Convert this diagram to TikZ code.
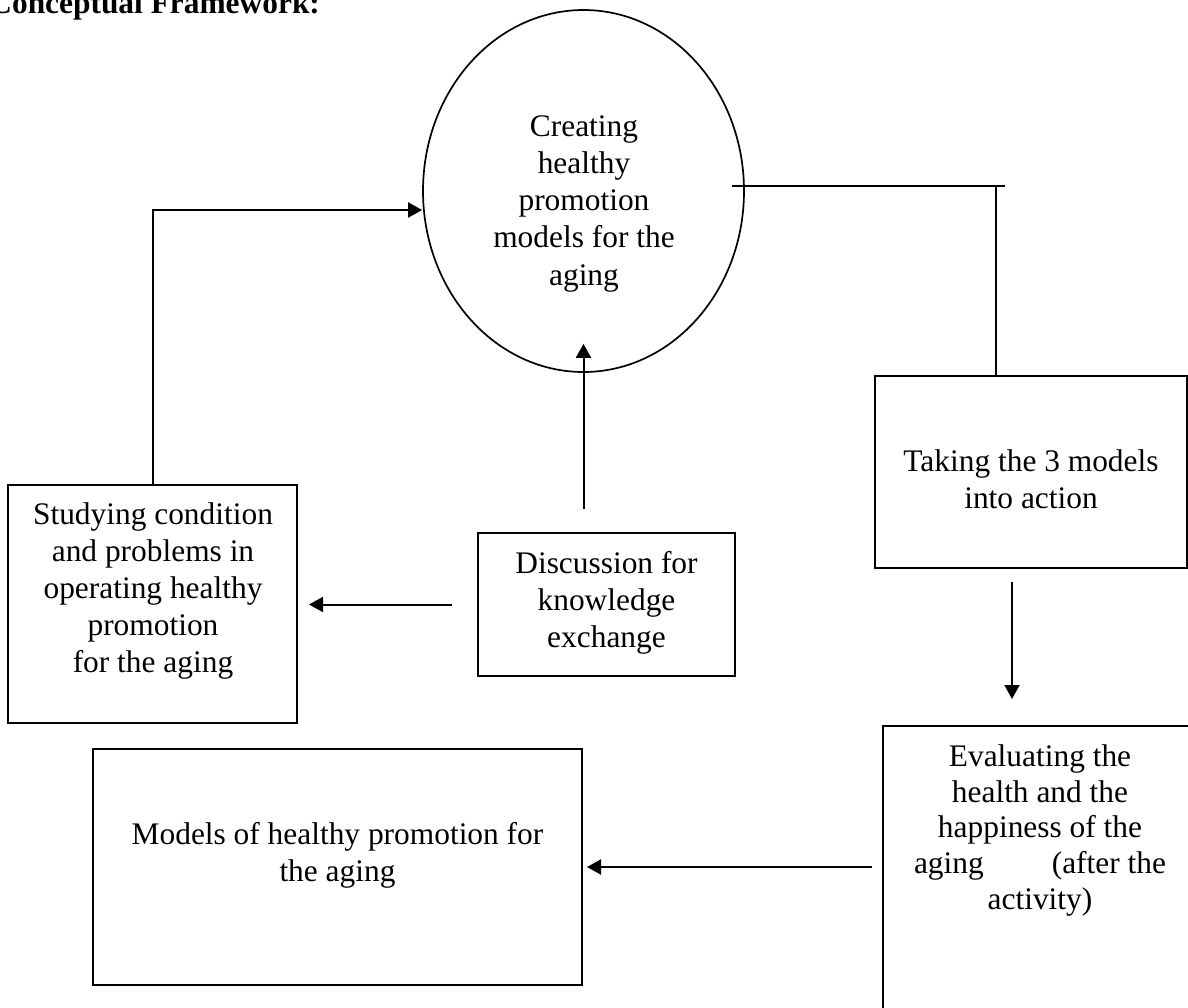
\documentclass[tikz,border=0pt]{standalone}
\usepackage{fontspec}
\setmainfont{Liberation Serif}
\usetikzlibrary{arrows.meta,calc,shapes.geometric}
\tikzset{
  panel/.style={draw,line width=1pt,inner sep=0pt},
  txt/.style={anchor=north,inner sep=0pt,align=center,font=\fontsize{15.7}{18.6}\selectfont},
  arr/.style={line width=1pt,-{Triangle[length=7pt,width=7.5pt]}}
}
\begin{document}
\begin{tikzpicture}[x=0.5pt,y=-0.5pt]
    \useasboundingbox (0,0) rectangle (1188,1007);
    \clip (0,0) rectangle (1188,1007);
    \node[anchor=base west,inner sep=0pt,font=\fontsize{15.7}{18.6}\selectfont\bfseries] (title) at (-11,13) {Conceptual Framework:};
    % shapes
    \node[panel,ellipse,line width=0.85pt,minimum width=160.5pt,minimum height=181pt] (create) at (583.5,191) {};
    \node[panel,minimum width=144.5pt,minimum height=119pt] (study) at (152.5,604) {};
    \node[panel,minimum width=128.5pt,minimum height=71.5pt] (disc) at (606.5,604.5) {};
    \node[panel,minimum width=156pt,minimum height=96pt] (take) at (1031,472) {};
    \node[panel,minimum width=157pt,minimum height=152pt] (eval) at (1040,878) {};
    \node[panel,minimum width=244.5pt,minimum height=118pt] (models) at (337.5,867) {};
    % texts
    \node[txt] (createtxt) at ($(create.north)+(0.5,106)$) {Creating\\healthy\\promotion\\models for the\\aging};
    \node[txt] (studytxt) at ($(study.north)+(0.5,18)$) {Studying condition\\and problems in\\operating healthy\\promotion\\for the aging};
    \node[txt] (disctxt) at ($(disc.north)+(0,19)$) {Discussion for\\knowledge\\exchange};
    \node[txt] (taketxt) at ($(take.north)+(0,74)$) {Taking the 3 models\\into action};
    \node[txt,font=\fontsize{15.7}{17.9}\selectfont] (evaltxt) at ($(eval.north)+(0,19)$) {Evaluating the\\health and the\\happiness of the\\aging\hspace{34pt}(after the\\activity)};
    \node[txt] (modelstxt) at ($(models.north)+(0,74)$) {Models of healthy promotion for\\the aging};
    % connectors
    \draw[arr] (study.north) |- ($(create.west)+(0,19)$);
    \draw[arr] ($(create.south |- disc.north)+(0,-23)$) -- ($(create.south)+(0,-29)$);
    \draw[arr] ($(disc.west)+(-25,0)$) -- ($(study.east |- disc.west)+(11,0)$);
    \coordinate (drop) at ($(take.north)+(-35,0)$);
    \coordinate (bend) at ($(create.east)+(260,-5)$);
    \draw[line width=1pt] ($(create.east)+(-13,-5)$) -- (bend) (bend -| drop) -- (drop);
    \draw[arr] ($(take.south)+(-19,13)$) -- ($(take.south |- eval.north)+(-19,-26)$);
    \draw[arr] ($(eval.west |- models.east)+(-10,0)$) -- ($(models.east)+(4,0)$);
\end{tikzpicture}
\end{document}
